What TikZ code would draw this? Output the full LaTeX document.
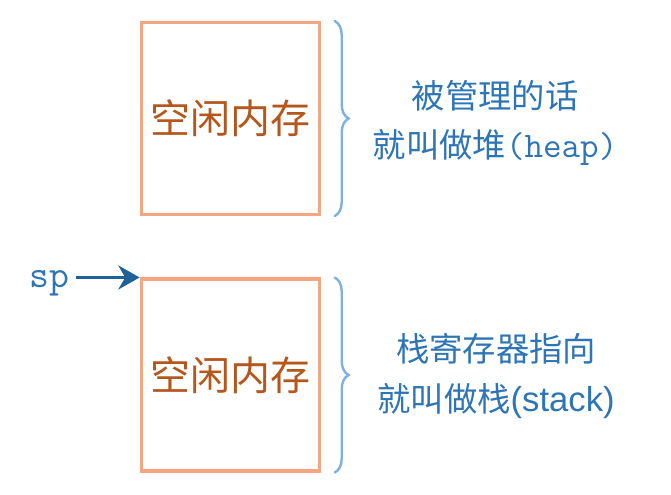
\documentclass[tikz,border=0pt]{standalone}
\usepackage{fontspec}
\setmainfont{Liberation Sans}
\newfontfamily\cjk{Noto Sans CJK SC}
\usetikzlibrary{positioning,arrows.meta,decorations.pathreplacing}
\definecolor{boxline}{HTML}{F4A582}
\definecolor{memtext}{HTML}{B5571C}
\definecolor{note}{HTML}{2E75B6}
\definecolor{ptr}{HTML}{1F6199}
\definecolor{bracec}{HTML}{7EB0E0}

\tikzset{
  membox/.style={draw=boxline, line width=2.3pt, minimum width=134pt, minimum height=144pt,
    inner sep=0pt, text=memtext, font=\cjk\fontsize{30}{36}\selectfont},
  notetext/.style={align=center, text=note, font=\cjk\fontsize{25}{37}\selectfont},
  bracepath/.style={draw=bracec, line width=1.8pt, line cap=round, decorate,
    decoration={brace, amplitude=10.5pt}}
}

\begin{document}
\begin{tikzpicture}[x=0.75pt, y=-0.75pt]
        \useasboundingbox (0,0) rectangle (671,494);
        % heap
        \node[membox] (heap) at (230.5,118.5) {空闲内存};
        \draw[bracepath] ([xshift=10pt]heap.north east) -- ([xshift=10pt]heap.south east);
        \node[notetext] (heapnote) at (495,123) {被管理的话\\就叫做堆{\ttfamily\fontsize{27}{37}\selectfont (heap)}};
        % stack
        \node[membox] (stack) at (230.5,375) {空闲内存};
        \draw[bracepath] ([xshift=10pt]stack.north east) -- ([xshift=10pt]stack.south east);
        \node[notetext] (stacknote) at (496,376) {栈寄存器指向\\就叫做栈{\rmfamily\fontsize{26}{37}\selectfont (stack)}};
        % stack pointer
        \node[text=note, font=\ttfamily\fontsize{29}{30}\selectfont, inner sep=2pt] (sp) at (49,283) {sp};
        \draw[ptr, line width=2.4pt, -{Stealth[length=16pt, width=18pt]}]
          ([xshift=3pt]sp.east |- stack.north) -- (stack.north west);
      \end{tikzpicture}
\end{document}
